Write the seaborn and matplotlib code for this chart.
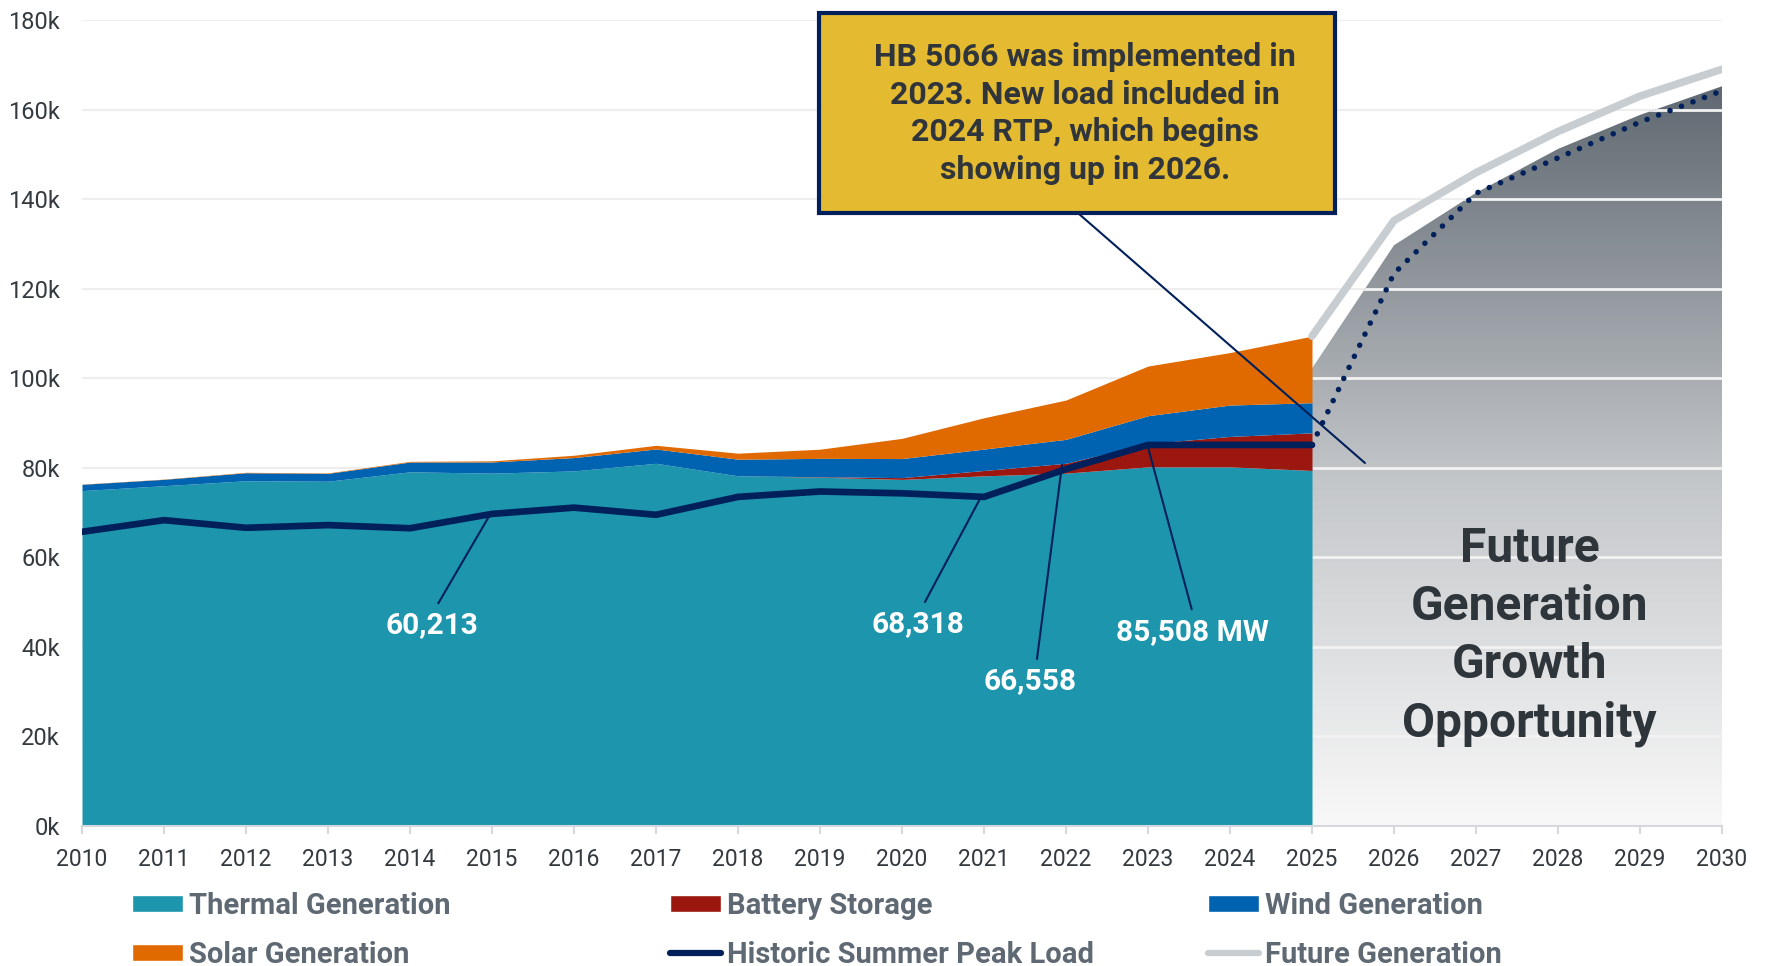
import numpy as np
import seaborn as sns
import matplotlib.pyplot as plt
from matplotlib.colors import LinearSegmentedColormap
from matplotlib.patches import Patch, Rectangle
from matplotlib.lines import Line2D

# historic generation stack (MW)
hist_years = list(range(2010, 2026))
thermal = [74900, 76000, 77100, 77000, 79100, 78800, 79300, 81000, 78200,
           77900, 77400, 78200, 78800, 80200, 80200, 79400]
battery = [0, 0, 0, 0, 0, 0, 0, 0, 0, 100, 400, 1200, 2200, 5200, 6800, 8400]
wind = [1400, 1420, 1790, 1750, 2180, 2500, 2980, 3200, 3720, 4100, 4260,
        4780, 5350, 6230, 7010, 6730]
solar = [50, 50, 100, 100, 150, 250, 520, 820, 1340, 2050, 4510, 6990, 8780,
         11090, 11720, 14870]
peak_load = [65700, 68300, 66600, 67200, 66500, 69700, 71100, 69500, 73500,
             74700, 74300, 73500, 79700, 85100, 85100, 85100]

# future
future_years = [2025, 2026, 2027, 2028, 2029, 2030]
future_gen = [109400, 135200, 145900, 155100, 163000, 169000]
future_fill = [102200, 129700, 141400, 151200, 158800, 165200]
future_load = [85100, 123400, 141300, 149200, 157200, 164200]

y_ticks = list(range(0, 180001, 20000))
y_labels = [f"{v // 1000}k" for v in y_ticks]

teal = '#1C95AD'
red = '#9B170F'
blue = '#0063B1'
orange = '#E16A00'
navy = '#00205B'
light_gray = '#C8CDD2'
text_dark = '#333A40'

sns.set_theme(style='white')
plt.rcParams['font.family'] = ['Roboto', 'DejaVu Sans']

fig = plt.figure(figsize=(17.66, 9.66), dpi=100)
ax = fig.add_axes([82 / 1766, 1 - 826 / 966, 1640 / 1766, 806 / 966])

# stacked areas
ax.stackplot(hist_years, thermal, battery, wind, solar,
             colors=[teal, red, blue, orange], linewidth=0, zorder=2)

# gradient "future" area
cmap = LinearSegmentedColormap.from_list(
    'fut', [(0, '#F8F8F8'), (0.45, '#C4C7CA'), (1.0, '#5A636C')])
grad = np.linspace(0, 1, 256).reshape(-1, 1)
im = ax.imshow(grad, extent=[2025, 2030, 0, 170000], origin='lower',
               cmap=cmap, aspect='auto', zorder=1.5)
poly = ax.fill_between(future_years, 0, future_fill, facecolor='none',
                       edgecolor='none')
clip = poly.get_paths()[0]
im.set_clip_path(clip, transform=ax.transData)
hl = ax.hlines(y_ticks[1:], 2025, 2030, colors='#F2F2F2', lw=2, zorder=1.8)
hl.set_clip_path(clip, transform=ax.transData)

# lines
sns.lineplot(x=future_years, y=future_gen, color=light_gray, lw=5.5,
             ax=ax, zorder=3)
sns.lineplot(x=hist_years, y=peak_load, color=navy, lw=4.8, ax=ax, zorder=5)
ax.lines[-1].set_solid_capstyle('round')
sns.lineplot(x=future_years, y=future_load, color=navy, lw=4, ax=ax,
             zorder=5)
ax.lines[-1].set_linestyle((0, (0.01, 2.2)))
ax.lines[-1].set_dash_capstyle('round')

# label connectors
connectors = [
    ((2014.345, 49735), (2014.976, 69545)),
    ((2020.28, 50026), (2020.963, 73475)),
    ((2021.646, 37296), (2021.951, 80622)),
    ((2023.533, 48395), (2023.0, 84642)),
    ((2022.159, 136678), (2025.646, 81069)),
]
for (x0, y0), (x1, y1) in connectors:
    ax.plot([x0, x1], [y0, y1], color=navy, lw=1.5, zorder=6)

labels = [
    ('60,213', 2014.265, 44890),
    ('68,318', 2020.195, 45113),
    ('66,558', 2021.565, 32340),
    ('85,508 MW', 2023.537, 43214),
]
for txt, x, y in labels:
    ax.text(x, y, txt, ha='center', va='center', color='white',
            fontsize=21.5, fontweight='bold', zorder=7)

ax.text(2027.655, 42400, 'Future\nGeneration\nGrowth\nOpportunity',
        ha='center', va='center', fontsize=34.5, fontweight='bold',
        color='#2E353B', linespacing=1.34, zorder=7)

# axes styling
ax.set_xlim(2010, 2030)
ax.set_ylim(0, 180000)
ax.set_xticks(range(2010, 2031))
ax.set_yticks(y_ticks)
ax.set_yticklabels(y_labels)
ax.yaxis.grid(True, color='#EEEEEE', lw=1.5)
ax.xaxis.grid(False)
ax.set_axisbelow(True)
for s in ['top', 'right', 'left']:
    ax.spines[s].set_visible(False)
ax.spines['bottom'].set_color('#D5D9DD')
ax.spines['bottom'].set_linewidth(1.5)
ax.tick_params(axis='x', bottom=True, length=6, width=1.5, color='#D5D9DD',
               pad=10, labelsize=16.5, labelcolor=text_dark)
ax.tick_params(axis='y', left=False, length=0, pad=16, labelsize=17,
               labelcolor=text_dark)
ax.set_xlabel('')
ax.set_ylabel('')

# callout box
fig.add_artist(Rectangle((819 / 1766, 1 - 213 / 966), 516 / 1766, 200 / 966,
                         transform=fig.transFigure, facecolor='#E4BA30',
                         edgecolor=navy, lw=3, zorder=8))
fig.text(1085 / 1766, 1 - 113.5 / 966,
         'HB 5066 was implemented in\n2023. New load included in\n'
         '2024 RTP, which begins\nshowing up in 2026.',
         ha='center', va='center', fontsize=23, fontweight='bold',
         color='#2F353B', linespacing=1.33, zorder=9)

# legends (three fixed columns)
leg_kw = dict(loc='upper left', frameon=False,
              handlelength=1.75, handleheight=0.55, handletextpad=0.22,
              labelspacing=0.72, borderpad=0, borderaxespad=0,
              labelcolor='#5F6973', prop={'weight': 'bold', 'size': 21})
cols = [
    (132, [Patch(facecolor=teal), Patch(facecolor=orange)],
     ['Thermal Generation', 'Solar Generation']),
    (670, [Patch(facecolor=red),
           Line2D([0], [0], color=navy, lw=4.5, solid_capstyle='round')],
     ['Battery Storage', 'Historic Summer Peak Load']),
    (1208, [Patch(facecolor=blue),
            Line2D([0], [0], color=light_gray, lw=4.5, solid_capstyle='round')],
     ['Wind Generation', 'Future Generation']),
]
for x, handles, names in cols:
    fig.legend(handles=handles, labels=names,
               bbox_to_anchor=(x / 1766, 1 - 892 / 966), **leg_kw)

fig.savefig('out.png', dpi=100)
